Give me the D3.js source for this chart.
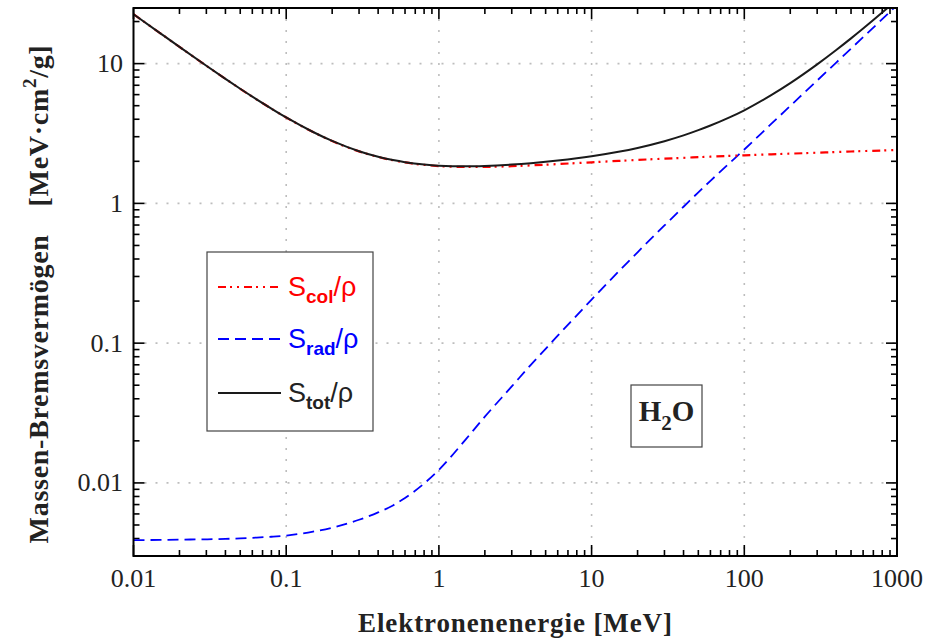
<!DOCTYPE html>
<html><head><meta charset="utf-8">
<script src="https://cdn.jsdelivr.net/npm/d3@7"></script>
<style>body{margin:0;background:#fff}svg{display:block}</style>
</head><body>
<svg id="c" width="928" height="643"></svg>
<script>
const energy = [0.01,0.015,0.02,0.03,0.04,0.05,0.06,0.08,0.1,0.15,0.2,0.3,0.4,0.5,0.6,0.8,1,1.5,2,3,4,5,6,8,10,15,20,30,40,50,60,80,100,150,200,300,400,500,600,800,1000];
const sCol = [22.56,16.46,13.17,9.653,7.777,6.603,5.797,4.764,4.115,3.238,2.793,2.355,2.148,2.034,1.963,1.886,1.849,1.822,1.824,1.846,1.870,1.892,1.911,1.943,1.968,2.014,2.046,2.089,2.118,2.141,2.158,2.186,2.206,2.244,2.269,2.305,2.331,2.351,2.367,2.391,2.410];
const sRad = [0.0039,0.00391,0.00393,0.00395,0.00398,0.00401,0.00405,0.00412,0.0042,0.00448,0.00478,0.00545,0.00615,0.0069,0.0078,0.0099,0.0124,0.0205,0.0298,0.0490,0.070,0.091,0.113,0.158,0.205,0.325,0.447,0.695,0.946,1.20,1.45,1.94,2.43,3.70,4.98,7.57,10.18,12.8,15.45,20.8,26.2];
const sTot = [22.564,16.464,13.174,9.657,7.781,6.607,5.801,4.768,4.119,3.242,2.798,2.360,2.154,2.041,1.971,1.896,1.862,1.843,1.855,1.896,1.940,1.983,2.024,2.101,2.173,2.339,2.493,2.784,3.064,3.341,3.608,4.126,4.636,5.944,7.249,9.875,12.511,15.151,17.817,23.191,28.61];
const xTicks = [0.01,0.1,1,10,100,1000];
const xTickLabels = ["0.01","0.1","1","10","100","1000"];
const yTicks = [0.01,0.1,1,10];
const yTickLabels = ["0.01","0.1","1","10"];

const svg = d3.select("#c");
const L=133.5, R=897, T=8, B=556;
const x = d3.scaleLog().domain([0.01,1000]).range([L,R]);
const y = d3.scaleLog().domain([0.003,25]).range([B,T]);

svg.append("defs").append("clipPath").attr("id","clip")
  .append("rect").attr("x",L).attr("y",T).attr("width",R-L).attr("height",B-T);

// grid
const grid = svg.append("g").attr("stroke","#bdbdbd").attr("stroke-width",1.6).attr("stroke-dasharray","2,9");
xTicks.slice(1,-1).forEach(v=>grid.append("line").attr("x1",x(v)).attr("x2",x(v)).attr("y1",T).attr("y2",B));
yTicks.forEach(v=>grid.append("line").attr("x1",L).attr("x2",R).attr("y1",y(v)).attr("y2",y(v)));

// minor tick values
const xMinor=[]; for(let d=-2; d<3; d++) for(let k=2;k<10;k++) xMinor.push(k*Math.pow(10,d));
const yMinor=[]; for(let d=-3; d<2; d++) for(let k=1;k<10;k++){const v=k*Math.pow(10,d); if(v>=0.003 && v<=25 && k!==1) yMinor.push(v);}

const ax = svg.append("g").attr("stroke","#000").attr("stroke-width",1.6);
xTicks.forEach(v=>{ax.append("line").attr("x1",x(v)).attr("x2",x(v)).attr("y1",B).attr("y2",B-11);
  ax.append("line").attr("x1",x(v)).attr("x2",x(v)).attr("y1",T).attr("y2",T+11);});
xMinor.forEach(v=>{ax.append("line").attr("x1",x(v)).attr("x2",x(v)).attr("y1",B).attr("y2",B-6);
  ax.append("line").attr("x1",x(v)).attr("x2",x(v)).attr("y1",T).attr("y2",T+6);});
yTicks.forEach(v=>{ax.append("line").attr("x1",L).attr("x2",L+11).attr("y1",y(v)).attr("y2",y(v));
  ax.append("line").attr("x1",R).attr("x2",R-11).attr("y1",y(v)).attr("y2",y(v));});
yMinor.forEach(v=>{ax.append("line").attr("x1",L).attr("x2",L+6).attr("y1",y(v)).attr("y2",y(v));
  ax.append("line").attr("x1",R).attr("x2",R-6).attr("y1",y(v)).attr("y2",y(v));});

// curves
const pts = a => energy.map((e,i)=>[e,a[i]]);
const line = d3.line().x(d=>x(d[0])).y(d=>y(d[1])).curve(d3.curveMonotoneX);
const cg = svg.append("g").attr("clip-path","url(#clip)").attr("fill","none");
cg.append("path").attr("d",line(pts(sRad))).attr("stroke","#0000ff").attr("stroke-width",1.8).attr("stroke-dasharray","11,6");
cg.append("path").attr("d",line(pts(sCol))).attr("stroke","#ff0000").attr("stroke-width",2.2).attr("stroke-dasharray","8,4,2,5,2,5");
cg.append("path").attr("d",line(pts(sTot))).attr("stroke","#1a1a1a").attr("stroke-width",2);

// frame
svg.append("rect").attr("x",L).attr("y",T).attr("width",R-L).attr("height",B-T)
  .attr("fill","none").attr("stroke","#000").attr("stroke-width",2);

// tick labels
const serif = "'Liberation Serif','DejaVu Serif',serif";
svg.append("g").selectAll("text").data(xTicks).join("text")
  .attr("x",d=>x(d)).attr("y",587).attr("text-anchor","middle")
  .attr("font-family",serif).attr("font-size",26).attr("fill","#222")
  .text((d,i)=>xTickLabels[i]);
svg.append("g").selectAll("text").data(yTicks).join("text")
  .attr("x",123).attr("y",d=>y(d)+8.5).attr("text-anchor","end")
  .attr("font-family",serif).attr("font-size",26).attr("fill","#222")
  .text((d,i)=>yTickLabels[i]);

// axis titles
svg.append("text").attr("x",515).attr("y",632).attr("text-anchor","middle")
  .attr("font-family",serif).attr("font-weight","bold").attr("font-size",27).attr("fill","#222")
  .attr("textLength",314).attr("lengthAdjust","spacing")
  .text("Elektronenenergie [MeV]");
const yt = svg.append("text").attr("transform","translate(48,294) rotate(-90)").attr("text-anchor","middle")
  .attr("font-family",serif).attr("font-weight","bold").attr("font-size",28).attr("letter-spacing",0.7).attr("fill","#222");
yt.append("tspan").text("Massen-Bremsvermögen");
yt.append("tspan").attr("dx",28).text("[MeV·cm");
yt.append("tspan").attr("dy",-12).attr("font-size",19).text("2");
yt.append("tspan").attr("dy",12).text("/g]");

// legend
const sans = "'Liberation Sans',Arial,sans-serif";
svg.append("rect").attr("x",207).attr("y",252).attr("width",166).attr("height",179)
  .attr("fill","#fff").attr("stroke","#444").attr("stroke-width",1.2);
const leg = [
  {sub:"col", color:"#ff0000", dash:"8,4,2,5,2,5", w:2.2, yy:287, tc:"#ff0000"},
  {sub:"rad", color:"#0000ff", dash:"11,6", w:1.8, yy:339, tc:"#0000ff"},
  {sub:"tot", color:"#1a1a1a", dash:null, w:2, yy:393, tc:"#222"}
];
leg.forEach(l=>{
  svg.append("line").attr("x1",218).attr("x2",281).attr("y1",l.yy).attr("y2",l.yy)
    .attr("stroke",l.color).attr("stroke-width",l.w).attr("stroke-dasharray",l.dash);
  const t = svg.append("text").attr("x",288).attr("y",l.yy+9).attr("font-family",sans).attr("font-size",27).attr("fill",l.tc);
  t.append("tspan").text("S");
  t.append("tspan").attr("dy",7).attr("font-size",19).attr("font-weight","bold").text(l.sub);
  t.append("tspan").attr("dy",-7).text("/ρ");
});

// H2O box
svg.append("rect").attr("x",631).attr("y",385).attr("width",71).attr("height",62)
  .attr("fill","#fff").attr("stroke","#444").attr("stroke-width",1.2);
const h = svg.append("text").attr("x",666.5).attr("y",421).attr("text-anchor","middle")
  .attr("font-family",serif).attr("font-weight","bold").attr("font-size",29).attr("fill","#222");
h.append("tspan").text("H");
h.append("tspan").attr("dy",9).attr("font-size",21).text("2");
h.append("tspan").attr("dy",-9).text("O");
</script>
</body></html>
